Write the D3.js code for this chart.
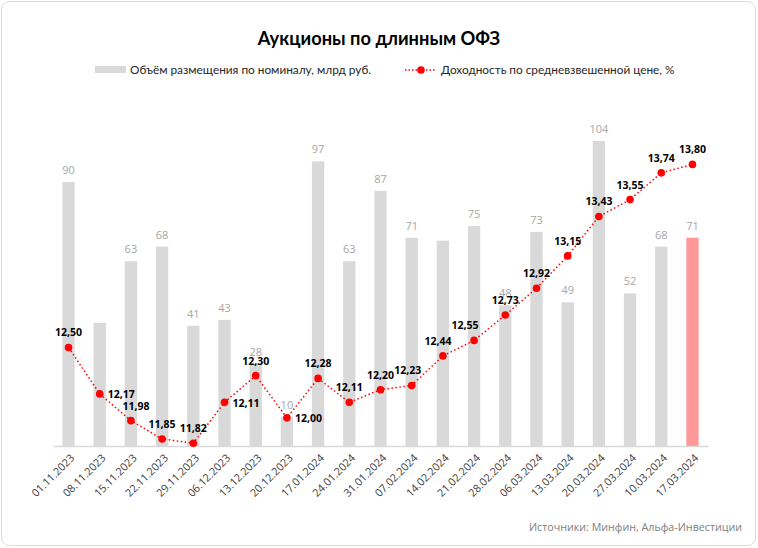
<!DOCTYPE html>
<html><head><meta charset="utf-8">
<script src="https://cdn.jsdelivr.net/npm/d3@7"></script>
<style>
html,body{margin:0;padding:0;background:#fff;}
svg{display:block;}
</style></head>
<body>
<script>
const dates = ["01.11.2023","08.11.2023","15.11.2023","22.11.2023","29.11.2023","06.12.2023","13.12.2023","20.12.2023","17.01.2024","24.01.2024","31.01.2024","07.02.2024","14.02.2024","21.02.2024","28.02.2024","06.03.2024","13.03.2024","20.03.2024","27.03.2024","10.03.2024","17.03.2024"];
const volume = [90,42,63,68,41,43,28,10,97,63,87,71,70,75,48,73,49,104,52,68,71];
const volumeLabelShown = [true,false,true,true,true,true,true,true,true,true,true,true,false,true,true,true,true,true,true,true,true];
const yieldPct = [12.50,12.17,11.98,11.85,11.82,12.11,12.30,12.00,12.28,12.11,12.20,12.23,12.44,12.55,12.73,12.92,13.15,13.43,13.55,13.74,13.80];
const titleText = "Аукционы по длинным ОФЗ";
const legendBar = "Объём размещения по номиналу, млрд руб.";
const legendLine = "Доходность по средневзвешенной цене, %";
const sourceText = "Источники: Минфин, Альфа-Инвестиции";

// label placement for yield labels (layout, not data)
const yPlace = ["a","r","a","a","a","r","a","r","a","a","a","a","a","a","a","a","a","a","a","a","a"];
const yNudge = [0,0,5,0,0,0,0,0,0,0,0,-4,-5,-9,0,0,0,0,0,0,0];

const W = 758, H = 548;
const fontMain = "'Open Sans', 'DejaVu Sans', sans-serif";
const fontNarrow = "Lato, sans-serif";

const svg = d3.select("body").append("svg").attr("width", W).attr("height", H);

svg.append("rect").attr("x",1.5).attr("y",1.5).attr("width",W-4).attr("height",H-4)
  .attr("rx",8).attr("fill","#fff").attr("stroke","#d9d9d9").attr("stroke-width",1);

const plotL = 53, plotR = 708, plotTop = 94, plotBot = 446;
const x = d3.scaleBand().domain(dates).range([plotL, plotR]).paddingInner(0.605).paddingOuter(0.3);
const y1 = d3.scaleLinear().domain([0,120]).range([plotBot, plotTop]);
const y2 = d3.scaleLinear().domain([11.8,14.3]).range([plotBot, plotTop]);

// title
svg.append("text").attr("x",379).attr("y",44.5).attr("text-anchor","middle")
  .style("font-family",fontNarrow).style("font-weight","bold").style("font-size","18.3px")
  .attr("fill","#000").text(titleText);

// legend
const lg = svg.append("g");
lg.append("rect").attr("x",95).attr("y",66).attr("width",31).attr("height",7).attr("fill","#d9d9d9");
lg.append("text").attr("x",130).attr("y",74).style("font-family",fontNarrow).style("font-size","11.8px")
  .attr("fill","#262626").text(legendBar);
lg.append("line").attr("x1",405).attr("x2",436).attr("y1",70).attr("y2",70)
  .attr("stroke","#ff0000").attr("stroke-width",1.5).attr("stroke-dasharray","1.5,2");
lg.append("circle").attr("cx",421).attr("cy",70).attr("r",3.8).attr("fill","#ff0000");
lg.append("text").attr("x",441).attr("y",74).style("font-family",fontNarrow).style("font-size","11.8px")
  .attr("fill","#262626").text(legendLine);

// bars
svg.append("g").selectAll("rect").data(dates).join("rect")
  .attr("x", d => x(d)).attr("width", x.bandwidth())
  .attr("y", (d,i) => y1(volume[i])).attr("height", (d,i) => plotBot - y1(volume[i]))
  .attr("fill", (d,i) => i === dates.length-1 ? "#ff9999" : "#d9d9d9");

// x axis
const xAxis = svg.append("g").attr("transform",`translate(0,${plotBot})`)
  .call(d3.axisBottom(x).tickSize(0).tickPadding(0));
xAxis.select(".domain").attr("stroke","#d9d9d9").attr("stroke-width",1.5);
xAxis.selectAll(".tick text")
  .attr("transform","translate(4,10) rotate(-45)")
  .attr("text-anchor","end").attr("dy","0.35em").attr("y",0)
  .style("font-family",fontMain).style("font-size","10.8px").attr("fill","#404040");

// bar labels
svg.append("g").selectAll("text").data(dates.filter((d,i)=>volumeLabelShown[i])).join("text")
  .attr("x", d => x(d) + x.bandwidth()/2)
  .attr("y", d => y1(volume[dates.indexOf(d)]) - 8)
  .attr("text-anchor","middle")
  .style("font-family",fontMain).style("font-size","11px").attr("fill","#a6a6a6")
  .text(d => volume[dates.indexOf(d)]);

// line
const cx = d => x(d) + x.bandwidth()/2;
const line = d3.line().x((d,i)=>cx(dates[i])).y(d=>y2(d));
svg.append("path").datum(yieldPct).attr("d",line).attr("fill","none")
  .attr("stroke","#ff0000").attr("stroke-width",1.5).attr("stroke-dasharray","1.5,2.5");
svg.append("g").selectAll("circle").data(yieldPct).join("circle")
  .attr("cx",(d,i)=>cx(dates[i])).attr("cy",d=>y2(d)).attr("r",3.8).attr("fill","#ff0000");

const fmt = v => v.toFixed(2).replace(".", ",");
svg.append("g").selectAll("text").data(yieldPct).join("text")
  .attr("x",(d,i)=> cx(dates[i]) + (yPlace[i]==="r" ? 8 : yNudge[i]))
  .attr("y",(d,i)=> yPlace[i]==="r" ? y2(d)+4.5 : y2(d)-11)
  .attr("text-anchor",(d,i)=> yPlace[i]==="r" ? "start" : "middle")
  .style("font-family",fontMain).style("font-weight","bold").style("font-size","10.5px")
  .attr("fill","#000").text(fmt);

// source
svg.append("text").attr("x",742).attr("y",531).attr("text-anchor","end")
  .style("font-family",fontMain).style("font-size","10.7px").attr("fill","#808080").text(sourceText);
</script>
</body></html>
